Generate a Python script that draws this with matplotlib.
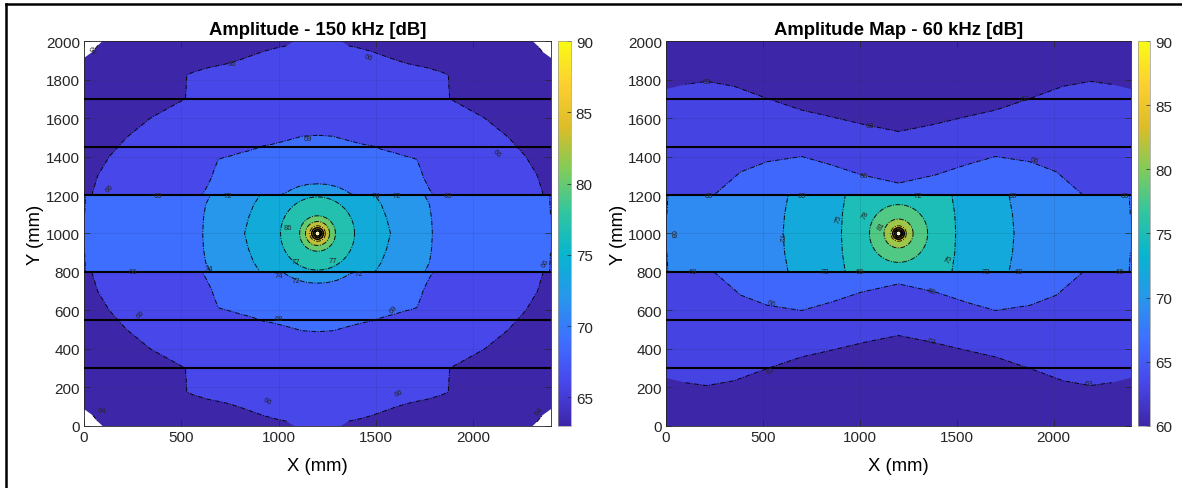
import matplotlib.pyplot as plt
import numpy as np
from matplotlib.colors import LinearSegmentedColormap, Normalize
from matplotlib.cm import ScalarMappable
from matplotlib.lines import Line2D

plt.rcParams['font.family'] = ['Liberation Sans', 'DejaVu Sans']

# parula(10) anchors
parula_rgb = [
    (0.2422, 0.1504, 0.6603), (0.2803, 0.2782, 0.9221), (0.2440, 0.4358, 0.9988),
    (0.1540, 0.5902, 0.9218), (0.0297, 0.7082, 0.8163), (0.1938, 0.7758, 0.6251),
    (0.5044, 0.7993, 0.3480), (0.8634, 0.7406, 0.1596), (0.9892, 0.8136, 0.1885),
    (0.9769, 0.9839, 0.0805),
]
parula = LinearSegmentedColormap.from_list('parula', parula_rgb, N=256)

stiffener_y = [300, 550, 800, 1200, 1450, 1700]
src_x, src_y = 1200, 1000

# ---- 150 kHz : contour boundaries, upper-left quarter (mirrored about x=1200, y=1000)
k150_63 = [(1200, 2000), (95, 2000), (72, 1978), (45, 1945), (0, 1912), (0, 1000)]
k150_66 = [(1200, 2000), (1080, 2000), (1040, 1975), (980, 1962), (920, 1945), (850, 1920),
           (800, 1902), (744, 1884), (690, 1872), (640, 1862), (600, 1850), (560, 1838),
           (528, 1823), (525, 1760), (521, 1700), (342, 1600), (220, 1500), (130, 1400),
           (70, 1300), (40, 1200), (0, 1200), (0, 1000)]
k150_69 = [(1200, 1510), (1120, 1505), (1060, 1488), (1000, 1472), (960, 1462), (920, 1455),
           (880, 1440), (840, 1428), (800, 1418), (760, 1405), (720, 1395), (690, 1385),
           (680, 1360), (668, 1330), (655, 1290), (640, 1260), (625, 1230), (606, 1200),
           (8, 1200), (3, 1100), (0, 1000)]
k150_72 = [(1200, 1258), (1150, 1255), (1100, 1243), (1060, 1225), (1030, 1207), (1000, 1200),
           (650, 1200), (625, 1150), (614, 1080), (610, 1000)]
k150_74 = [(1200, 1200), (905, 1200), (872, 1150), (845, 1080), (825, 1000)]
ring150_lv = [77, 80, 83, 86, 89]
ring150_r = [190, 92, 62, 40, 22]
lv150 = [63, 66, 69, 72, 74]
lab150 = [(40, 1950, '64', -50), (760, 1885, '66', 0), (1460, 1915, '66', -20), (1150, 1495, '69', 0),
          (130, 1235, '66', 45), (380, 1200, '69', 0), (740, 1200, '72', 0), (1500, 1200, '74', 0),
          (1610, 1200, '72', 0), (1870, 1200, '69', 0), (2120, 1420, '66', -45), (250, 800, '66', 0),
          (290, 580, '66', 45), (1000, 560, '69', 0), (1590, 610, '69', 45), (1000, 780, '74', 0),
          (1090, 755, '72', 0), (1410, 790, '72', 0), (1090, 855, '77', 0), (1280, 860, '77', 0),
          (640, 820, '74', 0), (940, 130, '66', -30), (1620, 170, '66', 25), (2370, 850, '66', 60),
          (2340, 80, '64', 50), (90, 80, '64', 0), (1045, 1030, '86', 0)]

# ---- 60 kHz
k60_60 = [(1200, 2000), (0, 2000), (0, 1000)]
k60_63 = [(1200, 1530), (1030, 1564), (850, 1607), (700, 1641), (520, 1702), (350, 1765),
          (210, 1790), (100, 1775), (0, 1750), (0, 1000)]
k60_66 = [(1200, 1262), (1010, 1304), (854, 1356), (700, 1400), (522, 1373), (385, 1320),
          (248, 1200), (0, 1200), (0, 1000)]
k60_69 = [(1200, 1200), (10, 1200), (4, 1100), (0, 1000)]
k60_72 = [(1200, 1200), (630, 1200), (612, 1100), (604, 1000)]
k60_75 = [(1200, 1200), (925, 1200), (910, 1100), (905, 1000)]
ring60_lv = [78, 81, 84, 87]
ring60_r = [150, 75, 40, 24]
lv60 = [60, 63, 66, 69, 72, 75]
lab60 = [(210, 1790, '63', 0), (1050, 1560, '63', 0), (1850, 1700, '63', 0), (1020, 1300, '66', 0),
         (1900, 1380, '66', -20), (220, 1200, '69', 0), (700, 1200, '69', 0), (1300, 1200, '72', 0),
         (1790, 1200, '69', 0), (2370, 1200, '69', 0), (30, 1000, '69', -90), (590, 980, '72', -90),
         (890, 1080, '75', 70), (1030, 1100, '78', 60), (1110, 1040, '81', 60), (1460, 870, '75', 60),
         (140, 800, '69', 0), (820, 800, '72', 0), (1000, 800, '69', 0), (1650, 800, '72', 0),
         (1820, 800, '69', 0), (2340, 800, '66', 0), (540, 640, '66', -20), (1370, 700, '66', -20),
         (1370, 440, '63', -20), (540, 290, '63', 30), (2180, 220, '63', 0)]


def mirror(pts):
    q = np.array(pts, float)
    ll = np.c_[q[::-1, 0], 2000 - q[::-1, 1]]
    lr = np.c_[2400 - q[:, 0], 2000 - q[:, 1]]
    ur = np.c_[2400 - q[::-1, 0], q[::-1, 1]]
    return np.vstack([q, ll, lr, ur, q[:1]])


def outline(ax, p, lw=0.7):
    p = p.copy()
    edge = (p[:, 0] <= 0) | (p[:, 0] >= 2400) | (p[:, 1] <= 0) | (p[:, 1] >= 2000)
    p[edge] = np.nan
    ax.plot(p[:, 0], p[:, 1], color='k', lw=lw, ls=(0, (5, 1.5, 1, 1.5)), alpha=0.9, zorder=2)


def draw_map(ax, cax, bounds, levels, ring_lv, ring_r, labels, clim, cticks, title):
    norm = Normalize(*clim)
    for lv, b in zip(levels, bounds):
        p = mirror(b)
        ax.fill(p[:, 0], p[:, 1], color=parula(norm(lv)), lw=0, zorder=1)
        outline(ax, p)
    t = np.linspace(0, 2 * np.pi, 200)
    for lv, r in zip(ring_lv, ring_r):
        cx, cy = src_x + r * np.cos(t), src_y + r * np.sin(t)
        ax.fill(cx, cy, color=parula(norm(lv)), lw=0, zorder=1)
        ax.plot(cx, cy, color='k', lw=0.7, ls=(0, (5, 1.5, 1, 1.5)), alpha=0.9, zorder=2)
    # dense contours at the source
    for r in [30, 20, 13]:
        ax.plot(src_x + r * np.cos(t), src_y + r * np.sin(t), color='k', lw=1.1, zorder=2)
    ax.fill(src_x + 9 * np.cos(t), src_y + 9 * np.sin(t), color=(1, 1, 0.85), lw=0, zorder=2)
    for y in stiffener_y:
        ax.axhline(y, color='black', lw=1.5, zorder=3)
    for x, y, s, rot in labels:
        ax.text(x, y, s, fontsize=5.5, rotation=rot, ha='center', va='center',
                color=(0.15, 0.15, 0.15), zorder=3)

    ax.set_xlim(0, 2400)
    ax.set_ylim(0, 2000)
    ax.set_xticks([0, 500, 1000, 1500, 2000])
    ax.set_yticks(range(0, 2001, 200))
    ax.set_axisbelow(False)
    ax.grid(True, color=(0.15, 0.15, 0.15), alpha=0.15, lw=0.5)
    ax.tick_params(direction='in', length=4, top=True, right=True, labelsize=11,
                   colors=(0.15, 0.15, 0.15), width=0.5, pad=3)
    for s in ax.spines.values():
        s.set_linewidth(0.6)
        s.set_color((0.15, 0.15, 0.15))
    ax.set_title(title, fontsize=13.3, fontweight='bold', pad=5)
    ax.set_xlabel('X (mm)', fontsize=13.3, labelpad=9)
    ax.set_ylabel('Y (mm)', fontsize=13.3, labelpad=1)

    cb = plt.colorbar(ScalarMappable(norm=norm, cmap=parula), cax=cax)
    cb.set_ticks(cticks)
    cb.outline.set_linewidth(0.5)
    cb.outline.set_edgecolor((0.6, 0.6, 0.6))
    cax.tick_params(direction='in', length=3, labelsize=11, colors=(0.15, 0.15, 0.15), width=0.5)


fig = plt.figure(figsize=(11.82, 4.89), dpi=100)
ax1 = fig.add_axes([0.0711, 0.1268, 0.3951, 0.7873])
cax1 = fig.add_axes([0.4720, 0.1268, 0.0110, 0.7873])
ax2 = fig.add_axes([0.5635, 0.1268, 0.3934, 0.7873])
cax2 = fig.add_axes([0.9628, 0.1268, 0.0105, 0.7873])

draw_map(ax1, cax1, [k150_63, k150_66, k150_69, k150_72, k150_74], lv150, ring150_lv, ring150_r,
         lab150, (63, 90), [65, 70, 75, 80, 85, 90], 'Amplitude - 150 kHz [dB]')
draw_map(ax2, cax2, [k60_60, k60_63, k60_66, k60_69, k60_72, k60_75], lv60, ring60_lv, ring60_r,
         lab60, (60, 90), [60, 65, 70, 75, 80, 85, 90], 'Amplitude Map - 60 kHz [dB]')

# frame of the original figure
fig.add_artist(Line2D([0.005, 0.005], [0, 0.99], transform=fig.transFigure, color='k', lw=1.8))
fig.add_artist(Line2D([0.005, 1], [0.99, 0.99], transform=fig.transFigure, color='k', lw=1.8))

fig.savefig('out.png', dpi=100)
